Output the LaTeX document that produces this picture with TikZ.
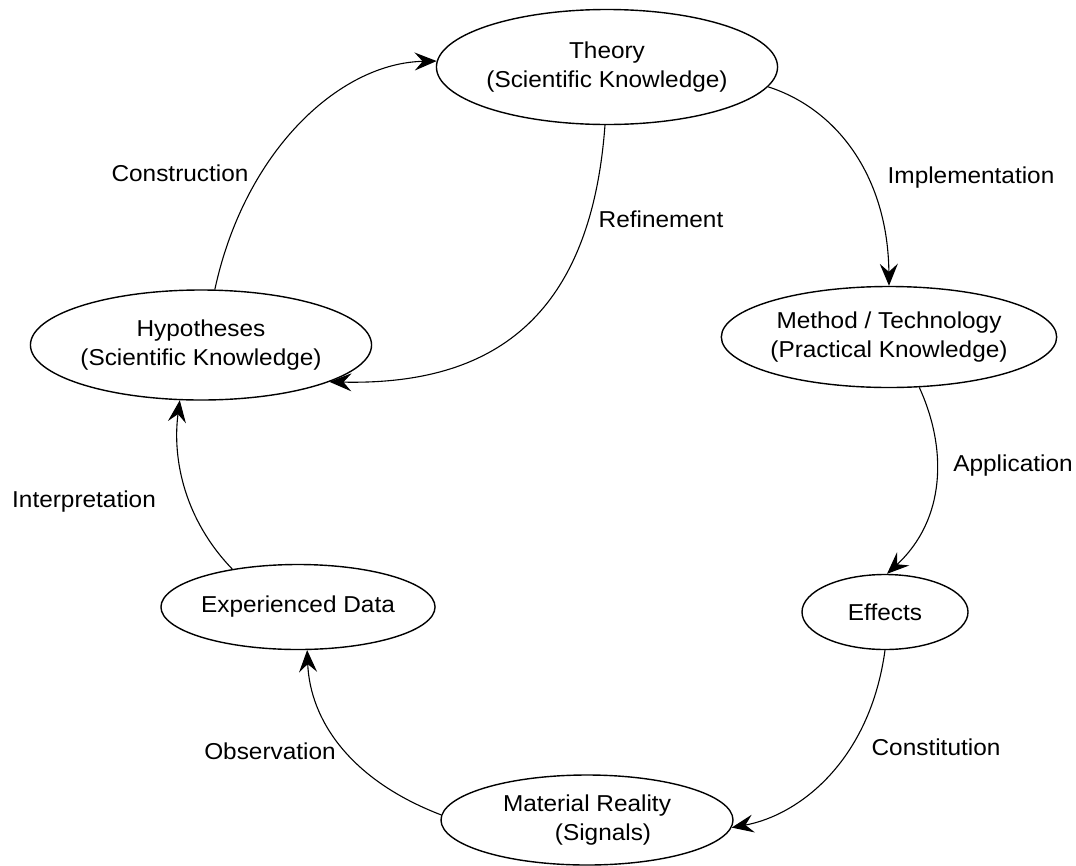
\documentclass[tikz,border=0pt]{standalone}
\usepackage{fontspec}
\setmainfont{Liberation Sans}[FakeStretch=1.06]
\usetikzlibrary{shapes.geometric,arrows.meta}
\tikzset{
  state/.style={ellipse, draw, line width=1.4pt, inner sep=0pt, align=center,
    font=\fontsize{23}{29}\selectfont},
  conn/.style={line width=1.1pt, -{Stealth[length=22pt,width=18pt,inset=8pt]}},
  lbl/.style={font=\fontsize{23}{29}\selectfont, inner sep=0pt}
}
\begin{document}
\begin{tikzpicture}[x=1pt,y=-1pt]
\useasboundingbox (0,0) rectangle (1076,865);
\node[state, minimum width=305pt, minimum height=115pt] (theory) at (607,67) {Theory\\(Scientific Knowledge)};
\node[state, minimum width=308pt, minimum height=101pt] (method) at (889,337) {Method / Technology\\(Practical Knowledge)};
\node[state, minimum width=166pt, minimum height=75pt] (effects) at (885,612) {Effects};
\node[state, minimum width=292pt, minimum height=110pt] (hyp) at (201,345) {Hypotheses\\(Scientific Knowledge)};
\node[state, minimum width=224pt, minimum height=85pt] (exp) at (298,607) {Experienced Data};
\node[state, minimum width=292pt, minimum height=90pt] (mat) at (587,820) {Material Reality\\\hspace*{32pt}(Signals)};

\node[lbl] (lcons) at (180,173) {Construction};
\node[lbl] (lref) at (661,219) {Refinement};
\node[lbl] (limp) at (971,178) {Implementation};
\node[lbl] (lapp) at (1013,466) {Application};
\node[lbl] (lint) at (84,502) {Interpretation};
\node[lbl] (lobs) at (270,751) {Observation};
\node[lbl] (lcon) at (936,747) {Constitution};

\draw[conn] (hyp.76) .. controls (245,150) and (340,63) .. (theory.178);
\draw[conn] (theory.268) .. controls (590,330) and (480,385) .. (hyp.344);
\draw[conn] (theory.353) .. controls (840,110) and (888,180) .. (method.90);
\draw[conn] (method.301) .. controls (948,450) and (945,520) .. (effects.87);
\draw[conn] (effects.270) .. controls (870,760) and (800,815) .. (mat.357);
\draw[conn] (mat.178) .. controls (350,780) and (310,720) .. (exp.282);
\draw[conn] (exp.150) .. controls (185,520) and (172,460) .. (hyp.249);
\end{tikzpicture}
\end{document}
